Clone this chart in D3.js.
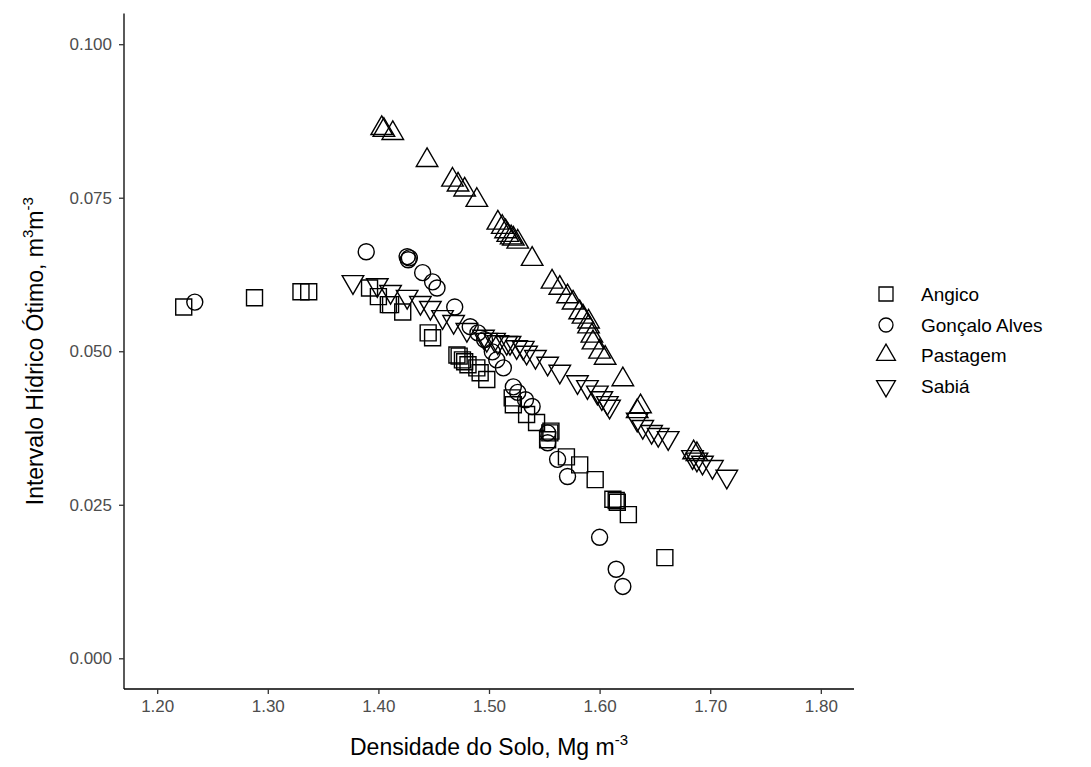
<!DOCTYPE html>
<html>
<head>
<meta charset="utf-8">
<script src="https://cdn.jsdelivr.net/npm/d3@7"></script>
<style>
  html, body { margin: 0; padding: 0; background: #fff; }
  svg { display: block; font-family: "Liberation Sans", Arial, sans-serif; }
</style>
</head>
<body>
<svg id="chart" width="1091" height="767"></svg>
<script>
// ---- data ----
const categories = ["Angico", "Gonçalo Alves", "Pastagem", "Sabiá"];
const shapes = ["square", "circle", "triangleUp", "triangleDown"];

const angicoX = [1.224,1.288,1.330,1.337,1.392,1.400,1.409,1.411,1.422,1.445,1.449,1.471,1.473,1.476,1.478,1.481,1.489,1.492,1.498,1.521,1.522,1.534,1.543,1.553,1.555,1.556,1.570,1.582,1.596,1.612,1.615,1.616,1.626,1.659];
const angicoY = [0.0572,0.0587,0.0597,0.0597,0.0603,0.0589,0.0576,0.0576,0.0564,0.0530,0.0522,0.0494,0.0492,0.0486,0.0483,0.0478,0.0473,0.0465,0.0454,0.0424,0.0413,0.0397,0.0384,0.0356,0.0367,0.0370,0.0328,0.0315,0.0291,0.0259,0.0257,0.0254,0.0234,0.0164];

const goncaloX = [1.234,1.389,1.426,1.427,1.428,1.440,1.449,1.453,1.469,1.483,1.490,1.496,1.503,1.507,1.513,1.522,1.526,1.533,1.539,1.553,1.553,1.562,1.571,1.600,1.615,1.621];
const goncaloY = [0.0580,0.0662,0.0654,0.0649,0.0652,0.0628,0.0613,0.0603,0.0572,0.0540,0.0530,0.0519,0.0499,0.0486,0.0473,0.0442,0.0433,0.0421,0.0410,0.0367,0.0351,0.0324,0.0296,0.0197,0.0145,0.0117];

const pastagemX = [1.403,1.405,1.413,1.444,1.467,1.472,1.478,1.489,1.508,1.512,1.515,1.517,1.520,1.522,1.526,1.539,1.557,1.564,1.571,1.576,1.582,1.585,1.590,1.590,1.593,1.594,1.600,1.605,1.621,1.634,1.637,1.685,1.688];
const pastagemY = [0.0863,0.0860,0.0855,0.0811,0.0779,0.0771,0.0763,0.0746,0.0709,0.0702,0.0695,0.0689,0.0685,0.0683,0.0678,0.0650,0.0613,0.0603,0.0589,0.0579,0.0563,0.0556,0.0548,0.0540,0.0525,0.0514,0.0499,0.0489,0.0454,0.0402,0.0410,0.0335,0.0332];

const sabiaX = [1.377,1.399,1.411,1.426,1.438,1.447,1.458,1.468,1.480,1.495,1.498,1.505,1.508,1.516,1.519,1.525,1.531,1.534,1.542,1.553,1.564,1.580,1.589,1.598,1.602,1.607,1.609,1.634,1.639,1.647,1.653,1.662,1.684,1.688,1.693,1.702,1.715];
const sabiaY = [0.0613,0.0608,0.0597,0.0589,0.0579,0.0571,0.0556,0.0548,0.0535,0.0524,0.0519,0.0519,0.0515,0.0514,0.0514,0.0507,0.0506,0.0498,0.0491,0.0480,0.0467,0.0450,0.0442,0.0433,0.0424,0.0416,0.0410,0.0389,0.0377,0.0369,0.0364,0.0359,0.0328,0.0324,0.0319,0.0312,0.0296];

const xTicks = [1.20, 1.30, 1.40, 1.50, 1.60, 1.70, 1.80];
const yTicks = [0.000, 0.025, 0.050, 0.075, 0.100];

const seriesX = [angicoX, goncaloX, pastagemX, sabiaX];
const seriesY = [angicoY, goncaloY, pastagemY, sabiaY];

// ---- drawing ----
const svg = d3.select("#chart");
const L = 124, R = 854, T = 13.5, B = 689;
const x = d3.scaleLinear().domain([1.17, 1.83]).range([L, R]);
const y = d3.scaleLinear().domain([-0.005, 0.105]).range([B, T]);

const H = 8; // half size of marker
function symPath(shape, s) {
  const h = s;
  if (shape === "square") return `M${-h},${-h}H${h}V${h}H${-h}Z`;
  if (shape === "circle") return `M${h},0A${h},${h} 0 1,1 ${-h},0A${h},${h} 0 1,1 ${h},0Z`;
  const r = 1.5551 * h, xc = 1.3468 * h, yc = 0.7776 * h;
  if (shape === "triangleUp") return `M0,${-r}L${xc},${yc}L${-xc},${yc}Z`;
  return `M0,${r}L${xc},${-yc}L${-xc},${-yc}Z`;
}

const pts = svg.append("g");
categories.forEach((c, i) => {
  const data = seriesX[i].map((v, j) => [v, seriesY[i][j]]);
  pts.selectAll(null).data(data).enter().append("path")
    .attr("d", symPath(shapes[i], H))
    .attr("transform", d => `translate(${x(d[0])},${y(d[1])})`)
    .attr("fill", "none").attr("stroke", "#000").attr("stroke-width", 1.4);
});

// axes
const xAxis = d3.axisBottom(x).tickValues(xTicks).tickFormat(d3.format(".2f")).tickSizeInner(5).tickSizeOuter(0).tickPadding(6);
const yAxis = d3.axisLeft(y).tickValues(yTicks).tickFormat(d3.format(".3f")).tickSizeInner(5).tickSizeOuter(0).tickPadding(7);

const gx = svg.append("g").attr("transform", `translate(0,${B})`).call(xAxis);
const gy = svg.append("g").attr("transform", `translate(${L},0)`).call(yAxis);
[gx, gy].forEach(g => {
  g.select(".domain").attr("stroke", "#000").attr("stroke-width", 1.3);
  g.selectAll(".tick line").attr("stroke", "#333").attr("stroke-width", 1.3);
  g.selectAll(".tick text").attr("fill", "#4D4D4D").style("font-size", "17px");
});
gx.select(".domain").attr("d", `M${L},0H${R}`);
gy.select(".domain").attr("d", `M0,${B}V${T}`);

// axis titles
svg.append("text").attr("x", (L + R) / 2).attr("y", 755).attr("text-anchor", "middle")
  .style("font-size", "23px").attr("fill", "#000")
  .html('Densidade do Solo, Mg m<tspan dy="-10" font-size="15px">-3</tspan>');
svg.append("text").attr("transform", `translate(43,${(T + B) / 2}) rotate(-90)`).attr("text-anchor", "middle")
  .style("font-size", "23px").attr("fill", "#000")
  .html('Intervalo Hídrico Ótimo, m<tspan dy="-10" font-size="15px">3</tspan><tspan dy="10">m</tspan><tspan dy="-10" font-size="15px">-3</tspan>');

// legend
const leg = svg.append("g");
const legY = [294, 325, 355, 386];
categories.forEach((c, i) => {
  leg.append("path").attr("d", symPath(shapes[i], 7))
    .attr("transform", `translate(886,${legY[i]})`)
    .attr("fill", "none").attr("stroke", "#000").attr("stroke-width", 1.3);
  leg.append("text").attr("x", 921).attr("y", legY[i]).attr("dy", "0.35em")
    .style("font-size", "19px").attr("fill", "#000").text(c);
});
</script>
</body>
</html>
